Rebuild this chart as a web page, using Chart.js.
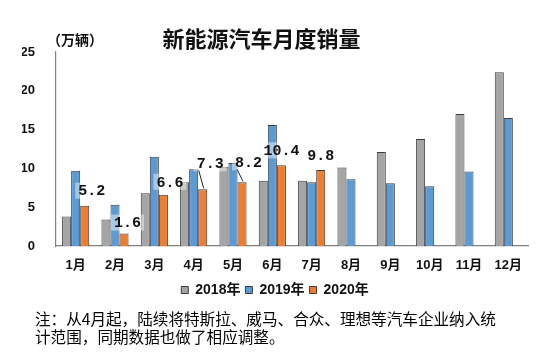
<!DOCTYPE html>
<html>
<head>
<meta charset="utf-8">
<script src="https://cdn.jsdelivr.net/npm/chart.js@4"></script>
<style>
  body { margin: 0; background: #fff; width: 550px; height: 360px; overflow: hidden; position: relative;
         font-family: "Noto Sans CJK SC", sans-serif; color: #111; }
  #wrap { position: absolute; left: 0; top: 0; width: 550px; height: 310px; }
  #title { position: absolute; top: 23px; left: 0; width: 523px; text-align: center;
           font-size: 22px; line-height: 28px; font-weight: bold; }
  #unit { position: absolute; top: 31px; left: 47px; font-size: 14px; line-height: 17px; font-weight: bold; }
  #note { position: absolute; top: 309px; left: 35px; font-size: 15.6px; line-height: 18px; color: #000; }
</style>
</head>
<body>
<div id="wrap"><canvas id="salesChart"></canvas></div>
<div id="title">新能源汽车月度销量</div>
<div id="unit">（万辆）</div>
<div id="note">注：从4月起，陆续将特斯拉、威马、合众、理想等汽车企业纳入统<br>计范围，同期数据也做了相应调整。</div>
<script>
const months = ['1月', '2月', '3月', '4月', '5月', '6月', '7月', '8月', '9月', '10月', '11月', '12月'];
const sales2018 = [3.8, 3.4, 6.8, 8.2, 10.2, 8.4, 8.4, 10.1, 12.1, 13.8, 17.0, 22.4];
const sales2019 = [9.7, 5.3, 11.5, 9.9, 10.7, 15.6, 8.2, 8.6, 8.1, 7.7, 9.6, 16.5];
const sales2020 = [5.2, 1.6, 6.6, 7.3, 8.2, 10.4, 9.8, null, null, null, null, null];
const yTicks = [0, 5, 10, 15, 20, 25];

// where each 2020 value label sits relative to its bar top (dx, dy), and whether it gets a leader line
const labelShift = [[7, -15], [3.5, -11], [6.5, -13], [7.5, -26], [6.5, -20], [0, -15], [0, -15]];
const hasLeader = [false, false, false, true, true, false, false];

const edge = '#3c3c3c';

const valueLabels = {
    id: 'valueLabels',
    afterDatasetsDraw(chart) {
        const ctx = chart.ctx;
        const meta = chart.getDatasetMeta(2);
        ctx.save();
        ctx.font = 'bold 15px "Liberation Mono", monospace';
        ctx.textAlign = 'center';
        ctx.textBaseline = 'middle';
        sales2020.forEach((v, i) => {
            if (v == null) return;
            const bar = meta.data[i];
            const [dx, dy] = labelShift[i];
            const x = bar.x + dx, y = bar.y + dy;
            const txt = v.toFixed(1);
            const w = ctx.measureText(txt).width + 6;
            ctx.fillStyle = 'rgba(255,255,255,0.45)';
            ctx.fillRect(x - w / 2, y - 8, w, 16);
            if (hasLeader[i]) {
                ctx.strokeStyle = '#222';
                ctx.lineWidth = 1;
                ctx.beginPath();
                ctx.moveTo(bar.x + 1, bar.y - 1);
                ctx.lineTo(x - w / 2 + 5, y + 7);
                ctx.stroke();
            }
            ctx.fillStyle = '#111';
            ctx.fillText(txt, x, y + 1);
        });
        ctx.restore();
    }
};

new Chart(document.getElementById('salesChart'), {
    type: 'bar',
    data: {
        labels: months,
        datasets: [
            { label: '2018年', data: sales2018, backgroundColor: '#a5a5a5', borderColor: edge, borderWidth: 1 },
            { label: '2019年', data: sales2019, backgroundColor: '#5b9bd5', borderColor: edge, borderWidth: 1 },
            { label: '2020年', data: sales2020, backgroundColor: '#ed7d31', borderColor: edge, borderWidth: 1 }
        ]
    },
    options: {
        responsive: true, maintainAspectRatio: false, animation: false,
        datasets: { bar: { categoryPercentage: 0.69, barPercentage: 1 } },
        layout: { padding: { left: 22, right: 22, top: 52, bottom: 3 } },
        scales: {
            x: {
                afterFit: s => { s.height = 32; },
                grid: { display: false, drawTicks: false },
                border: { color: '#808080', width: 1.2 },
                ticks: { color: '#111', font: { family: '"Liberation Sans", "Noto Sans CJK SC"', size: 13, weight: 'bold' }, padding: 12 }
            },
            y: {
                min: 0, max: 25,
                afterBuildTicks: s => { s.ticks = yTicks.map(v => ({ value: v })); },
                afterFit: s => { s.width = 34; },
                grid: { display: false, drawTicks: false },
                border: { color: '#808080', width: 1.2 },
                ticks: { color: '#111', font: { family: '"Liberation Sans", sans-serif', size: 13, weight: 'bold' }, padding: 21 }
            }
        },
        plugins: {
            legend: {
                position: 'bottom',
                labels: { boxWidth: 7, boxHeight: 7, padding: 5, color: '#111',
                          font: { family: '"Liberation Sans", "Noto Sans CJK SC"', size: 14, weight: 'bold' } }
            },
            title: { display: false },
            tooltip: { enabled: false }
        }
    },
    plugins: [valueLabels]
});
</script>
</body>
</html>
